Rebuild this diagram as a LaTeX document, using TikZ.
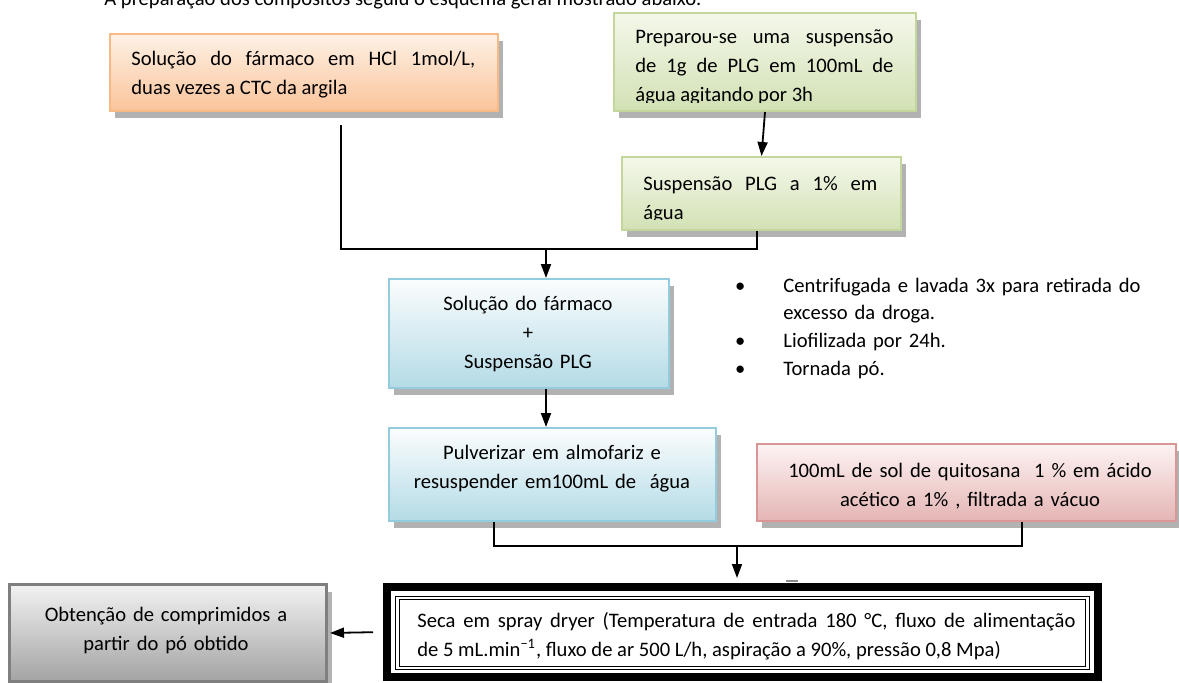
\documentclass[tikz,border=0pt]{standalone}
\usepackage{fontspec}
\setmainfont{Carlito}
\usetikzlibrary{arrows.meta,shadows}
\definecolor{orTop}{HTML}{FEF1E6}
\definecolor{orBot}{HTML}{FAC49A}
\definecolor{orLine}{HTML}{F8B984}
\definecolor{grTop}{HTML}{F4F8EA}
\definecolor{grBot}{HTML}{D2E1B4}
\definecolor{grLine}{HTML}{C3D69B}
\definecolor{blTop}{HTML}{FBFDFE}
\definecolor{blBot}{HTML}{B4DBE6}
\definecolor{blLine}{HTML}{93CDDD}
\definecolor{pkTop}{HTML}{FDF3F3}
\definecolor{pkBot}{HTML}{E4B5B4}
\definecolor{pkLine}{HTML}{D99694}
\definecolor{gyTop}{HTML}{F2F2F2}
\definecolor{gyBot}{HTML}{A3A3A3}
\definecolor{gyLine}{HTML}{7F7F7F}
\newcommand{\bul}{\leavevmode\llap{\textbullet\hspace{19pt}}}

\begin{document}
\begin{tikzpicture}[x=0.5pt,y=-0.5pt]
  \tikzstyle{box}=[rectangle, draw, line width=1pt, anchor=north west, inner sep=0pt,
    drop shadow={shadow xshift=2.5pt, shadow yshift=-3.5pt, fill=black, opacity=.3}]
  \tikzstyle{txt}=[inner sep=0pt, font=\fontsize{10.3}{14.5}\selectfont]
  \tikzstyle{arr}=[-{Triangle[width=5pt,length=7pt]}, line width=.9pt]
  \useasboundingbox (0,0) rectangle (1179,682);

  \node[txt, anchor=base west] (intro) at (104,5) {A preparação dos compósitos seguiu o esquema geral mostrado abaixo.};

  % top row
  \node[box, draw=orLine, top color=orTop, bottom color=orBot, minimum width=194pt, minimum height=38.5pt] (drug) at (109,33) {};
  \node[txt, anchor=base west, text width=172pt, align=justify] (drug-txt) at (131,65)
    {Solução do fármaco em HCl 1mol/L,\linebreak duas vezes a CTC da argila};

  \node[box, draw=grLine, top color=grTop, bottom color=grBot, minimum width=151pt, minimum height=49pt] (prep) at (613,12) {};
  \begin{scope}
    \clip (613,12) rectangle (915,102);
    \node[txt, anchor=base west, text width=129pt, align=justify] (prep-txt) at (635,43)
      {Preparou-se uma suspensão\linebreak de 1g de PLG em 100mL de\linebreak água agitando por 3h};
  \end{scope}

  \node[box, draw=grLine, top color=grTop, bottom color=grBot, minimum width=139.5pt, minimum height=36.5pt] (plg) at (621,156) {};
  \begin{scope}
    \clip (621,156) rectangle (900,219);
    \node[txt, anchor=base west, text width=117pt, align=justify] (plg-txt) at (643,190)
      {Suspensão PLG a 1\% em\linebreak água};
  \end{scope}

  % middle
  \node[box, draw=blLine, top color=blTop, bottom color=blBot, minimum width=140pt, minimum height=54.5pt] (mix) at (388,278) {};
  \node[txt, anchor=base, text width=130pt, align=center] (mix-txt) at (528,310)
    {Solução do fármaco\\+\\Suspensão PLG};

  \node[txt, anchor=base west, text width=190pt, align=left, font=\fontsize{10.3}{13.85}\selectfont] (steps) at (783,292)
    {\bul Centrifugada e lavada 3x para retirada do\\excesso da droga.\\\bul Liofilizada por 24h.\\\bul Tornada pó.};

  \node[box, draw=blLine, top color=blTop, bottom color=blBot, minimum width=163.5pt, minimum height=46.5pt] (grind) at (388,427) {};
  \node[txt, anchor=base, text width=160pt, align=center] (grind-txt) at (552,459)
    {Pulverizar em almofariz e\\resuspender em100mL de~ água};

  \node[box, draw=pkLine, top color=pkTop, bottom color=pkBot, minimum width=209.5pt, minimum height=38.5pt] (chito) at (756,443) {};
  \node[txt, anchor=base, text width=205pt, align=center] (chito-txt) at (970,477)
    {100mL de sol de quitosana~ 1 \% em ácido\\acético a 1\% , filtrada a vácuo};

  % bottom row
  \node[rectangle, draw=black, line width=4pt, minimum width=355.5pt, minimum height=45pt] (spray) at (742.5,632) {};
  \node[rectangle, draw=black, double, line width=.6pt, double distance=1.2pt, minimum width=345pt, minimum height=35pt] (spray-in) at (742.5,633) {};
  \node[txt, anchor=base west, text width=329pt, align=justify] (spray-txt) at (417,627)
    {Seca em spray dryer (Temperatura de entrada 180 °C, fluxo de alimentação\linebreak de 5 mL.min\textsuperscript{−1}, fluxo de ar 500 L/h, aspiração a 90\%, pressão 0,8 Mpa)};
  \node[txt, text=black!45] (dash) at (792,581) {\rule{6pt}{.6pt}};

  \node[box, draw=gyLine, line width=1.5pt, top color=gyTop, bottom color=gyBot, minimum width=158.5pt, minimum height=48.5pt] (tablet) at (8,583) {};
  \node[txt, anchor=base, text width=150pt, align=center] (tablet-txt) at (166,621)
    {Obtenção de comprimidos a\\partir do pó obtido};

  % connectors
  \coordinate (mixL) at (341,249);
  \coordinate (mixR) at (757,249);
  \coordinate (mixC) at (546,249);
  \coordinate (joinL) at (494,546);
  \coordinate (joinR) at (1022,546);
  \coordinate (joinC) at (737,546);

  \draw[arr] (prep.south) -- (plg.north);
  \draw[line width=.9pt, shorten <=6.5pt] (drug.south -| mixL) -- (mixL) -- (mixR) -- (plg.south -| mixR);
  \draw[arr] (mixC) -- (mix.north -| mixC);
  \draw[arr] (mix.south -| mixC) -- (grind.north -| mixC);
  \draw[line width=.9pt] (grind.south -| joinL) -- (joinL) -- (joinR) -- (chito.south -| joinR);
  \draw[arr, shorten >=2.5pt] (joinC) -- (spray.north -| joinC);
  \draw[arr, shorten <=5pt, shorten >=1pt] (spray.west) -- (tablet.east);
\end{tikzpicture}
\end{document}
